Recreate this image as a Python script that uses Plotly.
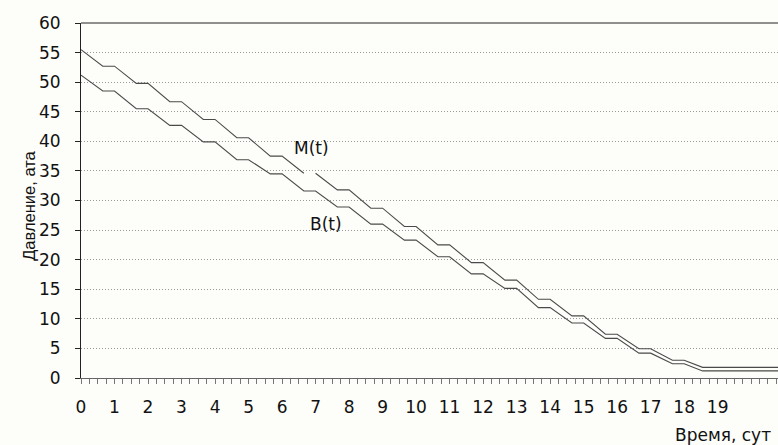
import plotly.graph_objects as go

# Vertex times (days) of the step-like curves
t_M = [0, 0.65, 1, 1.65, 2, 2.65, 3, 3.65, 4, 4.65, 5, 5.65, 6, 6.65, 6.8, 7, 7.65, 8, 8.65,
       9, 9.65, 10, 10.65, 11, 11.65, 12, 12.65, 13, 13.65, 14, 14.65, 15, 15.65, 16, 16.65,
       17, 17.65, 18, 18.55, 20.8]
M = [55.5, 52.7, 52.7, 49.8, 49.8, 46.7, 46.7, 43.7, 43.7, 40.6, 40.6, 37.5, 37.5, 34.6, None, 34.6,
     31.8, 31.8, 28.7, 28.7, 25.6, 25.6, 22.5, 22.5, 19.5, 19.5, 16.55, 16.55, 13.3, 13.3,
     10.5, 10.5, 7.4, 7.4, 4.95, 4.95, 3.0, 3.0, 1.8, 1.8]

t_B = [0, 0.65, 1, 1.65, 2, 2.65, 3, 3.65, 4, 4.65, 5, 5.65, 6, 6.65, 7, 7.65, 8, 8.65,
       9, 9.65, 10, 10.65, 11, 11.65, 12, 12.65, 13, 13.65, 14, 14.65, 15, 15.65, 16, 16.65,
       17, 17.65, 18, 18.55, 20.8]
B = [51.2, 48.5, 48.5, 45.5, 45.5, 42.7, 42.7, 39.9, 39.9, 36.9, 36.9, 34.5, 34.5, 31.6, 31.6,
     28.9, 28.9, 26.0, 26.0, 23.3, 23.3, 20.5, 20.5, 17.6, 17.6, 15.15, 15.15, 11.9, 11.9,
     9.3, 9.3, 6.7, 6.7, 4.2, 4.2, 2.4, 2.4, 1.2, 1.2]

x_tickvals = list(range(0, 20))
x_ticktext = [str(v) for v in x_tickvals]

BG = "#fdfdfa"
WIDE = "DejaVu Sans, sans-serif"
NARROW = "Liberation Sans, Arial, sans-serif"
TXT = "#111111"
LINE = "#4a4a4a"

fig = go.Figure()
fig.add_trace(go.Scatter(x=t_M, y=M, mode="lines", name="M(t)",
                         line=dict(color=LINE, width=1.1), connectgaps=False))
fig.add_trace(go.Scatter(x=t_B, y=B, mode="lines", name="B(t)",
                         line=dict(color=LINE, width=1.1)))

fig.update_layout(
    width=778, height=445,
    margin=dict(l=81, r=0, t=23, b=67),
    paper_bgcolor=BG, plot_bgcolor=BG,
    showlegend=False,
    font=dict(family=WIDE, size=17, color=TXT),
    xaxis=dict(
        range=[0, 20.8], tickmode="array", tickvals=x_tickvals, ticktext=x_ticktext,
        ticks="outside", ticklen=5, tickcolor="#777777", tickwidth=1,
        showline=True, linecolor="#666666", linewidth=1,
        showgrid=False, zeroline=False,
        ticklabelstandoff=9,
        tickfont=dict(size=17, family=WIDE, color=TXT),
        minor=dict(tick0=0, dtick=0.25, ticks="outside", ticklen=5,
                   tickcolor="#777777", tickwidth=1, showgrid=False),
    ),
    yaxis=dict(
        range=[0, 60], dtick=5, tick0=0,
        ticks="outside", ticklen=5, tickcolor="#222222",
        showline=True, linecolor="#222222", linewidth=1,
        showgrid=True, gridcolor="#999999", griddash="1px,2px", gridwidth=1,
        zeroline=False,
        ticklabelstandoff=11,
        tickfont=dict(size=17, family=WIDE, color=TXT),
    ),
    shapes=[dict(type="line", xref="paper", yref="paper", x0=0, x1=1, y0=1, y1=1,
                 line=dict(color="#222222", width=1))],
    annotations=[
        dict(text="M(t)", x=6.87, y=38.9, xref="x", yref="y", showarrow=False,
             font=dict(size=17, family=WIDE, color=TXT)),
        dict(text="B(t)", x=7.31, y=26.0, xref="x", yref="y", showarrow=False,
             font=dict(size=17, family=WIDE, color=TXT)),
        dict(text="Давление, ата", textangle=-90, xref="paper", yref="paper",
             x=0, xshift=-63, y=0.485, showarrow=False,
             font=dict(size=16.5, family=NARROW, color=TXT)),
        dict(text="Время, сут", xref="paper", yref="paper", x=1, xshift=-5,
             xanchor="right", y=0, yshift=-57, yanchor="middle", showarrow=False,
             font=dict(size=17, family=WIDE, color=TXT)),
    ],
)

fig.write_html("out.html")
